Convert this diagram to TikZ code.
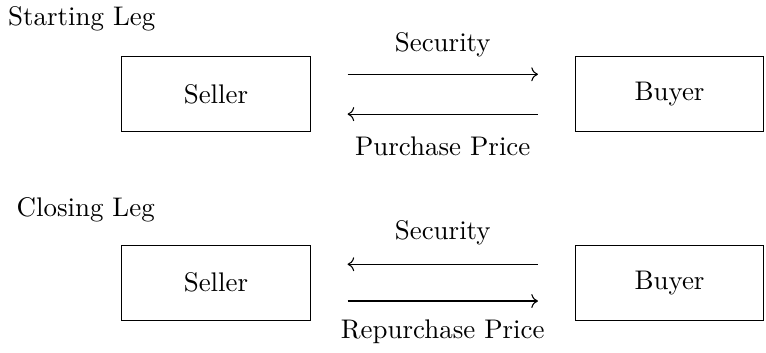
\documentclass[tikz,border=0pt]{standalone}
\usetikzlibrary{arrows.meta, positioning}

\begin{document}
\begin{tikzpicture}[->]
    \tikzstyle{party}=[draw, rectangle, minimum width=2.46cm, minimum height=0.98cm, inner sep=0pt]
    \tikzstyle{leg}=[anchor=west, inner sep=0pt]
    \tikzstyle{flow}=[inner sep=0pt]
    \tikzstyle{gap}=[shorten >=0.48cm, shorten <=0.48cm]

    \useasboundingbox (0,0) rectangle (10,-4.6);

%    starting leg
	\node[leg] (L1) at (0.1,-0.25){Starting Leg};
	\node[party] (S1) at (2.82,-1.23){Seller};
	\node[party] (B1) at (8.74,-1.23){Buyer};
	\node[flow] (T1) at (5.78,-0.59){Security};
	\node[flow] (T2) at (5.78,-1.91){Purchase Price};
	\draw[gap] ([yshift=0.26cm]S1.east) -- ([yshift=0.26cm]B1.west);
	\draw[gap] ([yshift=-0.26cm]B1.west) -- ([yshift=-0.26cm]S1.east);

%    closing leg
	\node[leg] (L2) at (0.21,-2.74){Closing Leg};
	\node[party] (S2) at (2.82,-3.69){Seller};
	\node[party] (B2) at (8.74,-3.69){Buyer};
	\node[flow] (T3) at (5.78,-3.04){Security};
	\node[flow] (T4) at (5.78,-4.33){Repurchase Price};
	\draw[gap] ([yshift=0.24cm]B2.west) -- ([yshift=0.24cm]S2.east);
	\draw[gap] ([yshift=-0.24cm]S2.east) -- ([yshift=-0.24cm]B2.west);

\end{tikzpicture}
\end{document}
